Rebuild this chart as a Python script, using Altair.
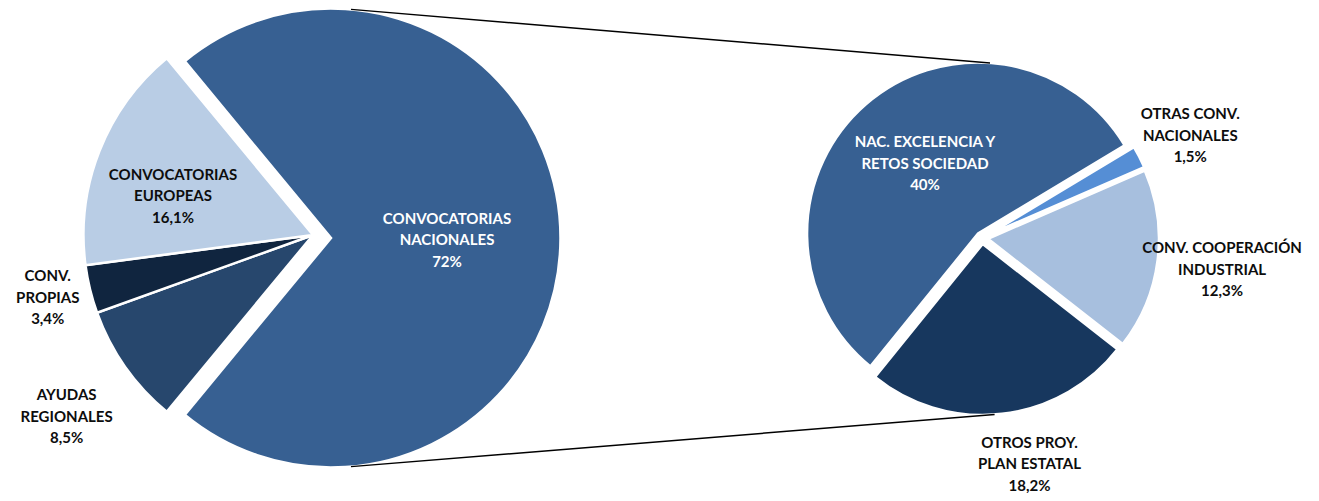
import math
import altair as alt
import pandas as pd

# ---------------- data ----------------
LEFT_NAMES = ["CONVOCATORIAS\nNACIONALES", "AYUDAS\nREGIONALES", "CONV.\nPROPIAS", "CONVOCATORIAS\nEUROPEAS"]
LEFT_VALUES = [72.0, 8.5, 3.4, 16.1]
RIGHT_NAMES = ["NAC. EXCELENCIA Y\nRETOS SOCIEDAD", "OTRAS CONV.\nNACIONALES",
               "CONV. COOPERACIÓN\nINDUSTRIAL", "OTROS PROY.\nPLAN ESTATAL"]
RIGHT_VALUES = [40.0, 1.5, 12.3, 18.2]

# ---------------- styles / layout ----------------
LEFT_COLORS = ["#376092", "#27476D", "#10253F", "#B9CDE5"]
RIGHT_COLORS = ["#376092", "#558ED5", "#A7BFDE", "#17375E"]
LEFT_TEXT = ["white", "#0d0d0d", "#0d0d0d", "#0d0d0d"]
RIGHT_TEXT = ["white", "#0d0d0d", "#0d0d0d", "#0d0d0d"]
# label placement: (radius from slice centre, dx, dy) for the block centre
LEFT_LABEL = [(116, 0, 2), (306, 4, 6), (273, 0, -2), (145, -5, 14)]
RIGHT_LABEL = [(87, 4, -4), (226, 2, 4), (236, 0, 1), (228, 21, -6)]
LINE_H = 21.5
FONT_SIZE = 15
FONT = "Lato"

W, H = 1303, 485
LEFT_C = (323.0, 230.0)
LEFT_R = 229.5
LEFT_OFF = [(0, 0), (-18, -3), (-18, -3), (-18, -3)]
RIGHT_C = (974.0, 230.0)
RIGHT_R = 171.0
RIGHT_EXPLODE = 6.0
RIGHT_START_DEG = 219.0


def pct(v):
    s = f"{v:.1f}".rstrip("0").rstrip(".")
    return s.replace(".", ",") + "%"


rows = []
for i, (n, v) in enumerate(zip(LEFT_NAMES, LEFT_VALUES)):
    rows.append({"pie": "L", "key": f"L{i}", "order": i, "value": v, "label": n + "\n" + pct(v)})
for i, (n, v) in enumerate(zip(RIGHT_NAMES, RIGHT_VALUES)):
    rows.append({"pie": "R", "key": f"R{i}", "order": i, "value": v, "label": n + "\n" + pct(v)})
df = pd.DataFrame(rows)

base = alt.Chart(df).transform_window(
    cum="sum(value)", groupby=["pie"], sort=[alt.SortField("order")], frame=[None, 0]
).transform_calculate(
    start="datum.cum - datum.value", mid="datum.cum - datum.value / 2"
)

left_total = sum(LEFT_VALUES)
right_total = sum(RIGHT_VALUES)
left_start = math.radians(90 - 360 * LEFT_VALUES[0] / left_total / 2)
right_start = math.radians(RIGHT_START_DEG)
left_scale = alt.Scale(domain=[0, left_total], range=[left_start, left_start + 2 * math.pi])
right_scale = alt.Scale(domain=[0, right_total], range=[right_start, right_start + 2 * math.pi])


def label_layer(sub, lab, color, scale, cx, cy, n_lines=3):
    r, dx, dy = lab
    # first line is drawn at the anchor: shift block so that its centre sits there
    dy = dy - (n_lines - 1) / 2 * LINE_H
    return sub.mark_text(radius=r, dx=dx, dy=dy, lineBreak="\n", font=FONT, fontWeight="bold",
                         fontSize=FONT_SIZE, lineHeight=LINE_H, color=color, align="center",
                         baseline="middle").encode(
        theta=alt.Theta("mid:Q", stack=None, scale=scale),
        text="label:N",
        x=alt.value(cx), y=alt.value(cy),
    )


layers = []
# left pie
for i in range(len(LEFT_VALUES)):
    cx = LEFT_C[0] + LEFT_OFF[i][0]
    cy = LEFT_C[1] + LEFT_OFF[i][1]
    sub = base.transform_filter(alt.datum.key == f"L{i}")
    arc = sub.mark_arc(radius=LEFT_R, stroke="white", strokeWidth=2.5, color=LEFT_COLORS[i]).encode(
        theta=alt.Theta("start:Q", stack=None, scale=left_scale),
        theta2="cum:Q",
        x=alt.value(cx), y=alt.value(cy),
    )
    layers += [arc, label_layer(sub, LEFT_LABEL[i], LEFT_TEXT[i], left_scale, cx, cy)]

# right pie
acc = 0.0
right_centres = []
for i, v in enumerate(RIGHT_VALUES):
    mid_deg = RIGHT_START_DEG + 360 * (acc + v / 2) / right_total
    acc += v
    cx = RIGHT_C[0] + RIGHT_EXPLODE * math.sin(math.radians(mid_deg))
    cy = RIGHT_C[1] - RIGHT_EXPLODE * math.cos(math.radians(mid_deg))
    right_centres.append((cx, cy))
    sub = base.transform_filter(alt.datum.key == f"R{i}")
    arc = sub.mark_arc(radius=RIGHT_R, stroke="white", strokeWidth=2.5, color=RIGHT_COLORS[i]).encode(
        theta=alt.Theta("start:Q", stack=None, scale=right_scale),
        theta2="cum:Q",
        x=alt.value(cx), y=alt.value(cy),
    )
    layers += [arc, label_layer(sub, RIGHT_LABEL[i], RIGHT_TEXT[i], right_scale, cx, cy)]


# connector lines between the top / bottom of both pies
def pt(c, r, deg):
    return c[0] + r * math.sin(math.radians(deg)), c[1] - r * math.cos(math.radians(deg))


lt = pt(LEFT_C, LEFT_R, 5)
lb = pt(LEFT_C, LEFT_R, 175)
rt = pt(right_centres[0], RIGHT_R, 4)
rb = pt(right_centres[3], RIGHT_R, 176)
for a, b in [(lt, rt), (lb, rb)]:
    layers.append(
        alt.Chart(df.head(1)).mark_rule(color="black", strokeWidth=1.5).encode(
            x=alt.value(a[0]), y=alt.value(a[1]), x2=alt.value(b[0]), y2=alt.value(b[1])
        )
    )

chart = alt.layer(*layers).resolve_scale(theta="independent").properties(
    width=W, height=H, padding=0, autosize=alt.AutoSizeParams(type="none"), background="white"
).configure_view(stroke=None)

chart.save("out.html", embed_options={"renderer": "svg", "actions": False})
